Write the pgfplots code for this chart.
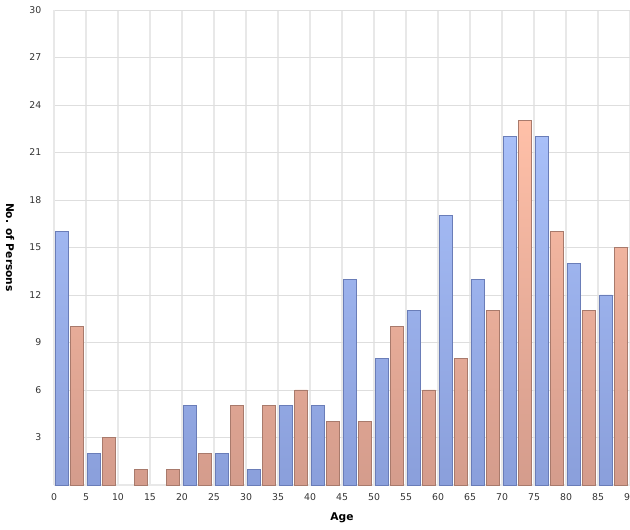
\documentclass[border=0pt]{standalone}
\usepackage{pgfplots}
\pgfplotsset{compat=1.18}
\usepackage{fontspec}
\setmainfont{DejaVu Sans}
\definecolor{bluetop}{HTML}{A8BFF8}
\definecolor{bluebot}{HTML}{8A9FDB}
\definecolor{blueedge}{HTML}{6A7DB8}
\definecolor{ortop}{HTML}{FFC0A8}
\definecolor{orbot}{HTML}{D49C8C}
\definecolor{oredge}{HTML}{A87A6C}
\definecolor{vgrid}{HTML}{E8E8E8}
\definecolor{hgrid}{HTML}{DEDEDE}
\begin{document}
\begin{tikzpicture}
\begin{axis}[
  scale only axis,
  width=432pt, height=356.25pt,
  xmin=0, xmax=90, ymin=0, ymax=30,
  xtick={0,5,...,90},
  ytick={3,6,...,30},
  axis line style={draw=vgrid, line width=1.4pt},
  axis x line*=bottom, axis y line*=left,
  xmajorgrids, ymajorgrids,
  x grid style={vgrid, line width=1.4pt},
  y grid style={hgrid, line width=0.6pt},
  major tick length=0pt,
  tick label style={font=\fontsize{7}{8}\selectfont, text=black!80},
  /pgf/number format/assume math mode=true,
  xticklabel style={yshift=-3pt},
  yticklabel style={xshift=-6pt},
  xlabel={\textbf{Age}},
  ylabel={\textbf{No. of Persons}},
  label style={font=\fontsize{8}{9}\selectfont},
  ylabel style={at={(axis description cs:0,0.5)}, anchor=center, rotate=180, yshift=-33pt},
  xlabel style={yshift=-2pt},
  clip=false,
]
\addplot[ybar, bar width=1.95, bar shift=0pt, draw=blueedge, line width=0.7pt, top color=bluetop, bottom color=bluebot]
 coordinates {(1.25,16) (6.25,2) (21.25,5) (26.25,2) (31.25,1) (36.25,5) (41.25,5) (46.25,13) (51.25,8) (56.25,11) (61.25,17) (66.25,13) (71.25,22) (76.25,22) (81.25,14) (86.25,12)};
\addplot[ybar, bar width=1.95, bar shift=0pt, draw=oredge, line width=0.7pt, top color=ortop, bottom color=orbot]
 coordinates {(3.6,10) (8.6,3) (13.6,1) (18.6,1) (23.6,2) (28.6,5) (33.6,5) (38.6,6) (43.6,4) (48.6,4) (53.6,10) (58.6,6) (63.6,8) (68.6,11) (73.6,23) (78.6,16) (83.6,11) (88.6,15)};
\end{axis}
\pgfresetboundingbox
\useasboundingbox (-40.5pt,-33.75pt) rectangle (432pt,363.75pt);
\end{tikzpicture}
\end{document}
